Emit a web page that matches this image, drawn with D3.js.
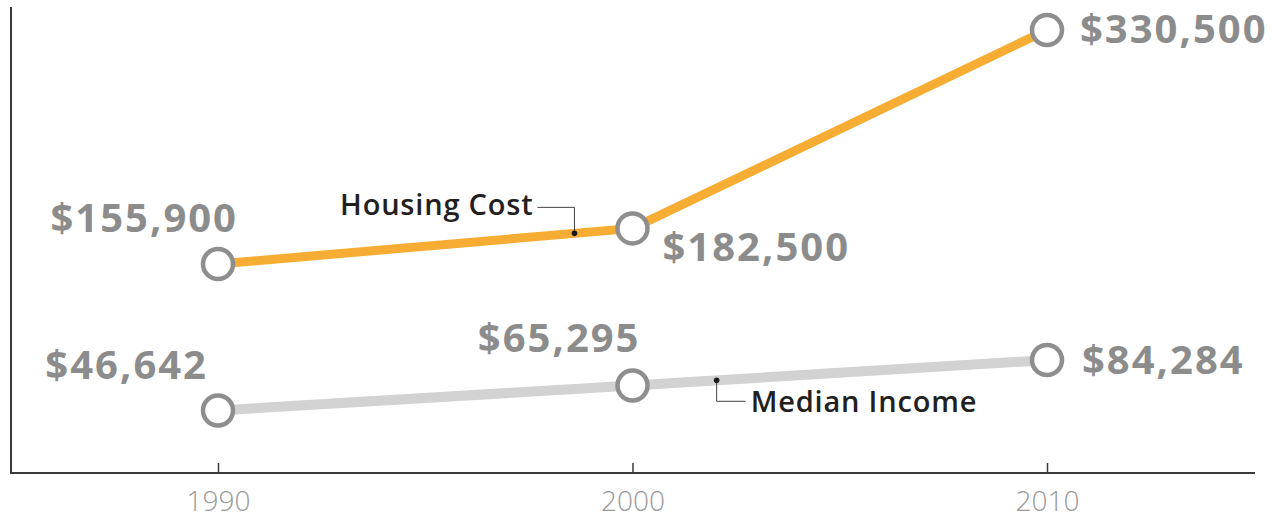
<!DOCTYPE html>
<html>
<head>
<meta charset="utf-8">
<script src="https://cdn.jsdelivr.net/npm/d3@7"></script>
<style>
  html, body { margin: 0; padding: 0; background: #ffffff; }
  svg { display: block; }
</style>
</head>
<body>
<svg id="chart" width="1276" height="519"></svg>
<script>
// Census years on the x axis
const years = [1990, 2000, 2010];
const tickLabels = ["1990", "2000", "2010"];

// Median home value and median household income, in dollars
const housingCost = [155900, 182500, 330500];
const medianIncome = [46642, 65295, 84284];

// Series names used for the call-out labels
const seriesNames = ["Housing Cost", "Median Income"];

const fmt = d3.format("$,");

const svg = d3.select("#chart");

const x = d3.scaleLinear().domain([1990, 2010]).range([218, 1047]);
const y = d3.scaleLinear().domain([0, 330500]).range([473, 30]);

const axisLeft = 11, axisRight = 1255, axisTop = 7;

// Axes
const axisColor = "#3a3a3a";
svg.append("line")
  .attr("x1", axisLeft).attr("x2", axisLeft)
  .attr("y1", axisTop).attr("y2", y(0) + 1)
  .attr("stroke", axisColor).attr("stroke-width", 2);

const xAxis = d3.axisBottom(x)
  .tickValues(years)
  .tickFormat((d, i) => tickLabels[i])
  .tickSizeInner(-10)
  .tickSizeOuter(0)
  .tickPadding(18);

const gx = svg.append("g")
  .attr("transform", `translate(0,${y(0)})`)
  .call(xAxis);
gx.select(".domain").remove();
gx.selectAll(".tick line").attr("stroke", axisColor).attr("stroke-width", 1.5);
gx.selectAll(".tick text")
  .attr("fill", "#999999")
  .attr("font-family", "'Open Sans', sans-serif")
  .attr("font-weight", 300)
  .attr("font-size", 28)
  .attr("dy", "0.72em");
svg.append("line")
  .attr("x1", axisLeft - 1).attr("x2", axisRight)
  .attr("y1", y(0)).attr("y2", y(0))
  .attr("stroke", axisColor).attr("stroke-width", 2);

// Lines
const line = d3.line().x(d => x(d[0])).y(d => y(d[1]));
const housingPts = years.map((yr, i) => [yr, housingCost[i]]);
const incomePts = years.map((yr, i) => [yr, medianIncome[i]]);

svg.append("path").datum(incomePts)
  .attr("d", line).attr("fill", "none")
  .attr("stroke", "#d2d2d2").attr("stroke-width", 10);
svg.append("path").datum(housingPts)
  .attr("d", line).attr("fill", "none")
  .attr("stroke", "#f7ad33").attr("stroke-width", 9);

// Point markers
function markers(pts) {
  svg.append("g").selectAll("circle").data(pts).join("circle")
    .attr("cx", d => x(d[0])).attr("cy", d => y(d[1]))
    .attr("r", 15)
    .attr("fill", "#ffffff")
    .attr("stroke", "#8e8e8e").attr("stroke-width", 4.5);
}
markers(housingPts);
markers(incomePts);

// Value labels, placed beside each marker
const housingLabelPos = [[20, -32, "end"], [30, 33, "start"], [33, 13, "start"]];
const incomeLabelPos = [[-10, -31, "end"], [8, -33, "end"], [35, 14, "start"]];

function valueLabels(pts, pos) {
  svg.append("g").selectAll("text").data(pts).join("text")
    .attr("x", (d, i) => x(d[0]) + pos[i][0])
    .attr("y", (d, i) => y(d[1]) + pos[i][1])
    .attr("text-anchor", (d, i) => pos[i][2])
    .attr("fill", "#8c8c8c")
    .attr("font-family", "'Open Sans', sans-serif")
    .attr("font-weight", 700)
    .attr("font-size", 40)
    .attr("letter-spacing", 2)
    .text(d => fmt(d[1]));
}
valueLabels(housingPts, housingLabelPos);
valueLabels(incomePts, incomeLabelPos);

// Series call-outs with leader lines
function valueAt(pts, yr) {
  const i = d3.bisectRight(pts.map(p => p[0]), yr) - 1;
  const a = pts[Math.max(0, Math.min(i, pts.length - 2))];
  const b = pts[Math.max(1, Math.min(i + 1, pts.length - 1))];
  const t = (yr - a[0]) / (b[0] - a[0]);
  return a[1] + t * (b[1] - a[1]);
}

function callout(pts, yr, bendDy, runDx, textDy, name, anchor) {
  const px = x(yr), py = y(valueAt(pts, yr));
  const g = svg.append("g");
  g.append("path")
    .attr("d", `M${px},${py}V${py + bendDy}H${px + runDx}`)
    .attr("fill", "none").attr("stroke", "#444").attr("stroke-width", 1);
  g.append("circle").attr("cx", px).attr("cy", py).attr("r", 2.8).attr("fill", "#1a1a1a");
  g.append("text")
    .attr("x", px + runDx + (anchor === "end" ? -4 : 5))
    .attr("y", py + bendDy + textDy)
    .attr("text-anchor", anchor)
    .attr("fill", "#231f20")
    .attr("font-family", "'Open Sans', sans-serif")
    .attr("font-weight", 600)
    .attr("font-size", 29)
    .attr("letter-spacing", 0.8)
    .text(name);
}
callout(housingPts, 1998.6, -26, -37, 8, seriesNames[0], "end");
callout(incomePts, 2002.03, 21, 29, 11, seriesNames[1], "start");
</script>
</body>
</html>
